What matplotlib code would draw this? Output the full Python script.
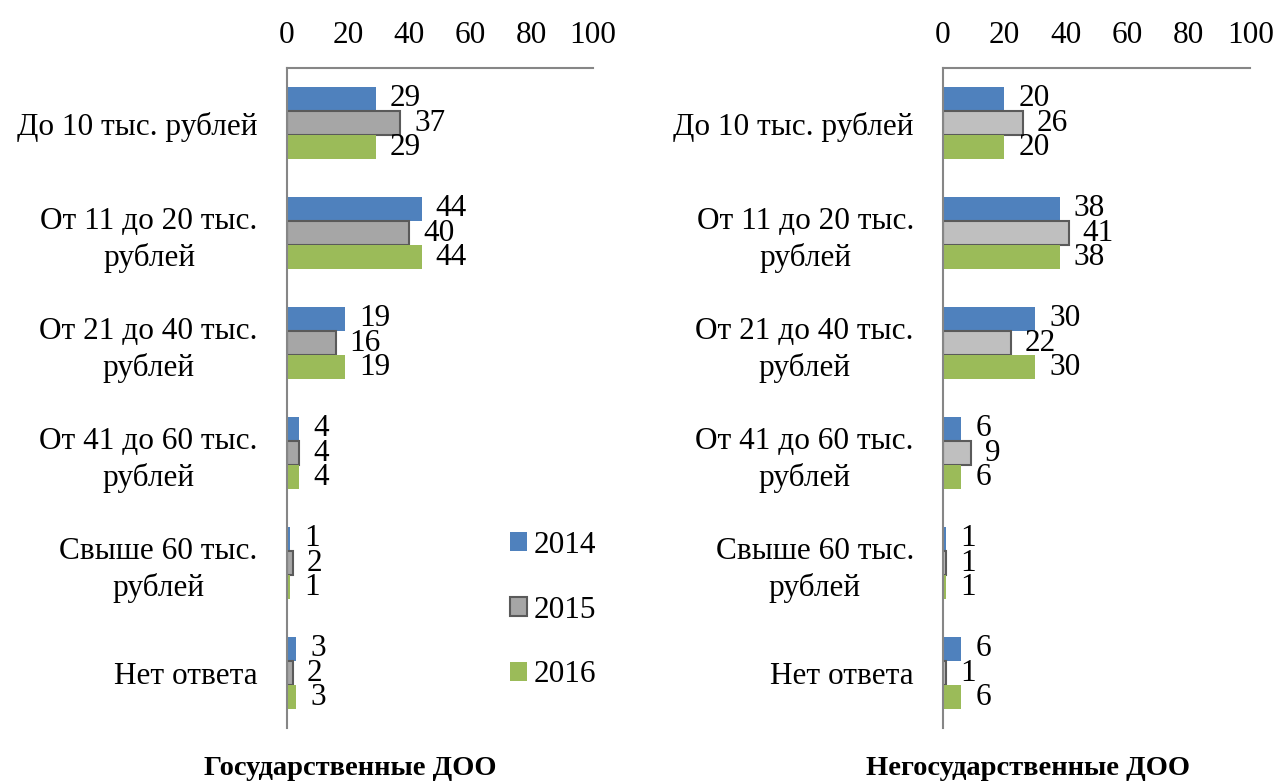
import numpy as np
import matplotlib
matplotlib.use("Agg")
import matplotlib.pyplot as plt

plt.rcParams["font.family"] = ["Liberation Serif", "DejaVu Serif"]

# data
categories = ["До 10 тыс. рублей", "От 11 до 20 тыс.\nрублей", "От 21 до 40 тыс.\nрублей",
              "От 41 до 60 тыс.\nрублей", "Свыше 60 тыс.\nрублей", "Нет ответа"]
years = ["2014", "2015", "2016"]

gos_2014 = [29, 44, 19, 4, 1, 3]
gos_2015 = [37, 40, 16, 4, 2, 2]
gos_2016 = [29, 44, 19, 4, 1, 3]

negos_2014 = [20, 38, 30, 6, 1, 6]
negos_2015 = [26, 41, 22, 9, 1, 1]
negos_2016 = [20, 38, 30, 6, 1, 6]

titles = ["Государственные ДОО", "Негосударственные ДОО"]

blue = "#4F81BD"
green = "#9BBB59"
edge = "#5A5A5A"
fs = 22.5

fig = plt.figure(figsize=(12.75, 7.83), dpi=100)
ax1 = fig.add_axes([0.225, 0.070, 0.240, 0.843])
ax2 = fig.add_axes([0.7396, 0.070, 0.241, 0.843])


def draw(ax, v14, v15, v16, gray):
    y = np.arange(len(categories))
    h = 0.22
    b1 = ax.barh(y - h, v14, height=h, color=blue, label=years[0])
    b2 = ax.barh(y, v15, height=h, color=gray, edgecolor=edge, linewidth=1.5, label=years[1])
    b3 = ax.barh(y + h, v16, height=h, color=green, label=years[2])
    for bars in (b1, b2, b3):
        ax.bar_label(bars, padding=10, fontsize=fs)
    ax.set_xlim(0, 100)
    ax.set_ylim(len(categories) - 0.5, -0.5)
    ax.set_yticks(y)
    ax.set_yticklabels(categories, fontsize=fs, multialignment="center", linespacing=1.3)
    ax.set_xticks(range(0, 101, 20))
    ax.xaxis.tick_top()
    ax.tick_params(axis="x", length=0, pad=13, labelsize=fs)
    ax.tick_params(axis="y", length=0, pad=21)
    for s in ["right", "bottom"]:
        ax.spines[s].set_visible(False)
    for s in ["top", "left"]:
        ax.spines[s].set_color("#868686")
        ax.spines[s].set_linewidth(1.5)
    return b1, b2, b3


draw(ax1, gos_2014, gos_2015, gos_2016, "#A6A6A6")
draw(ax2, negos_2014, negos_2015, negos_2016, "#BFBFBF")

ax1.legend(loc="center left", bbox_to_anchor=(0.73, 0.179), frameon=False, fontsize=fs,
           labelspacing=1.15, handlelength=0.55, handleheight=0.55, handletextpad=0.2,
           borderpad=0, borderaxespad=0)

fig.text(0.275, 0.018, titles[0], ha="center", va="center", fontsize=20.5, fontweight="bold")
fig.text(0.806, 0.018, titles[1], ha="center", va="center", fontsize=20.5, fontweight="bold")

fig.savefig("out.png", dpi=100)
